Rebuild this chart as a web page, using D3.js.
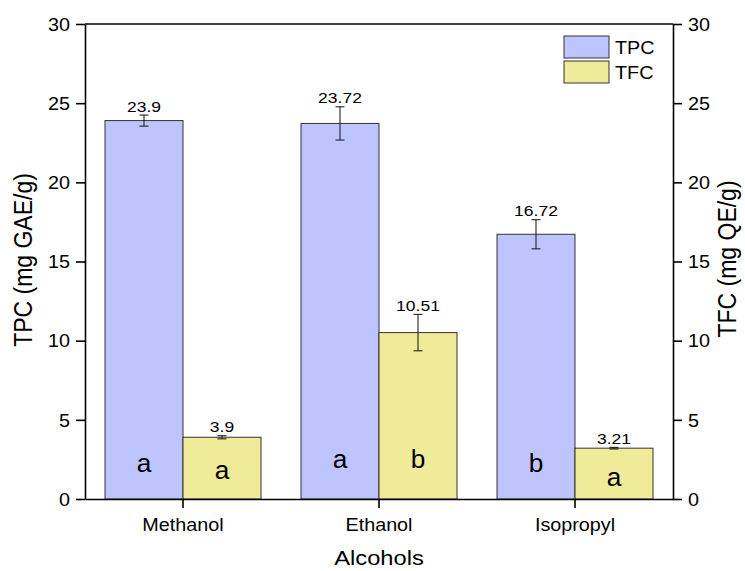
<!DOCTYPE html>
<html>
<head>
<meta charset="utf-8">
<script src="https://cdn.jsdelivr.net/npm/d3@7"></script>
<style>
  html, body { margin: 0; padding: 0; background: #fff; }
  svg { display: block; font-family: Arial, "Liberation Sans", sans-serif; }
</style>
</head>
<body>
<svg id="chart" width="745" height="571"></svg>
<script>
// ---- data ----
const categories = ["Methanol", "Ethanol", "Isopropyl"];
const series = ["TPC", "TFC"];
const tpcValues = [23.9, 23.72, 16.72];
const tpcErrors = [0.35, 1.05, 0.92];
const tfcValues = [3.9, 10.51, 3.21];
const tfcErrors = [0.1, 1.15, 0.05];
const tpcLabels = ["23.9", "23.72", "16.72"];
const tfcLabels = ["3.9", "10.51", "3.21"];
const tpcLetters = ["a", "a", "b"];
const tfcLetters = ["a", "b", "a"];
const tpcLetterY = [1.7, 1.96, 1.7];
const tfcLetterY = [1.26, 1.96, 0.82];
const yTicks = [0, 5, 10, 15, 20, 25, 30];

const colors = { TPC: "#BDC4FE", TFC: "#F0EB98" };
const SX = 1.13; // horizontal glyph stretch

const svg = d3.select("#chart");
const mLeft = 85, mRight = 673, mTop = 24, mBottom = 499;

const x0 = d3.scaleBand().domain(categories).range([mLeft, mRight]).padding(0);
const bw = 78;
const x1 = d3.scaleBand().domain(series)
  .range([x0.bandwidth() / 2 - bw, x0.bandwidth() / 2 + bw]).padding(0);
const y = d3.scaleLinear().domain([0, 30]).range([mBottom, mTop]);

const rows = categories.map((c, i) => ([
  { cat: c, s: "TPC", v: tpcValues[i], e: tpcErrors[i], lab: tpcLabels[i], let: tpcLetters[i], ly: tpcLetterY[i] },
  { cat: c, s: "TFC", v: tfcValues[i], e: tfcErrors[i], lab: tfcLabels[i], let: tfcLetters[i], ly: tfcLetterY[i] }
])).flat();

// stretched text helper
function stext(g, x, yy, str, size, anchor, sx) {
  return g.append("text")
    .attr("transform", `translate(${x},${yy}) scale(${sx || SX},1)`)
    .attr("text-anchor", anchor || "middle")
    .attr("font-size", size)
    .attr("fill", "#000")
    .text(str);
}

// bars
const bars = svg.append("g");
rows.forEach(d => {
  const bx = x0(d.cat) + x1(d.s);
  bars.append("rect")
    .attr("x", bx).attr("y", y(d.v))
    .attr("width", x1.bandwidth()).attr("height", y(0) - y(d.v))
    .attr("fill", colors[d.s]).attr("stroke", "#333").attr("stroke-width", 1);
});

// error bars
rows.forEach(d => {
  const cx = x0(d.cat) + x1(d.s) + x1.bandwidth() / 2;
  const g = svg.append("g").attr("stroke", "#222").attr("stroke-width", 1.1);
  g.append("line").attr("x1", cx).attr("x2", cx).attr("y1", y(d.v + d.e)).attr("y2", y(d.v - d.e));
  g.append("line").attr("x1", cx - 4.5).attr("x2", cx + 4.5).attr("y1", y(d.v + d.e)).attr("y2", y(d.v + d.e));
  g.append("line").attr("x1", cx - 4.5).attr("x2", cx + 4.5).attr("y1", y(d.v - d.e)).attr("y2", y(d.v - d.e));
});

// value labels and letters
const lab = svg.append("g");
rows.forEach(d => {
  const cx = x0(d.cat) + x1(d.s) + x1.bandwidth() / 2;
  stext(lab, cx, y(d.v + d.e) - 3.5, d.lab, 15.5, "middle");
  stext(lab, cx, y(d.ly), d.let, 25, "middle", 1.05);
});

// axes
const axisStroke = 1.6;
const gl = svg.append("g").attr("transform", `translate(${mLeft},0)`)
  .call(d3.axisLeft(y).tickValues(yTicks).tickSize(9).tickSizeOuter(0));
gl.selectAll("text").attr("x", 0).attr("dy", "0.36em")
  .attr("transform", `translate(-15,0) scale(${SX},1)`);

const gr = svg.append("g").attr("transform", `translate(${mRight},0)`)
  .call(d3.axisRight(y).tickValues(yTicks).tickSize(9).tickSizeOuter(0));
gr.selectAll("text").attr("x", 0).attr("dy", "0.36em")
  .attr("transform", `translate(15,0) scale(${SX},1)`);

const gb = svg.append("g").attr("transform", `translate(0,${mBottom})`)
  .call(d3.axisBottom(x0).tickSize(9).tickSizeOuter(0));
gb.selectAll("text").attr("y", 0).attr("dy", 0)
  .attr("transform", `translate(0,32) scale(${SX},1)`);

[gl, gr, gb].forEach(g => {
  g.selectAll("text").attr("font-size", 17.5).attr("font-family", "Arial, 'Liberation Sans', sans-serif").attr("fill", "#000");
  g.selectAll("path, line").attr("stroke", "#000").attr("stroke-width", axisStroke);
});
// top border
svg.append("line").attr("x1", mLeft).attr("x2", mRight).attr("y1", mTop).attr("y2", mTop)
  .attr("stroke", "#000").attr("stroke-width", axisStroke);

// titles
stext(svg, (mLeft + mRight) / 2, 565, "Alcohols", 21, "middle");
svg.append("text")
  .attr("transform", `translate(32,260) rotate(-90) scale(1,${SX})`)
  .attr("text-anchor", "middle").attr("font-size", 23).text("TPC (mg GAE/g)");
svg.append("text")
  .attr("transform", `translate(736,259) rotate(-90) scale(1,${SX})`)
  .attr("text-anchor", "middle").attr("font-size", 23).text("TFC (mg QE/g)");

// legend
const leg = svg.append("g");
series.forEach((s, i) => {
  leg.append("rect").attr("x", 564).attr("y", 36 + i * 25).attr("width", 45).attr("height", 22)
    .attr("fill", colors[s]).attr("stroke", "#333").attr("stroke-width", 1);
  stext(leg, 615, 54 + i * 25, s, 19, "start", 1.04);
});
</script>
</body>
</html>
